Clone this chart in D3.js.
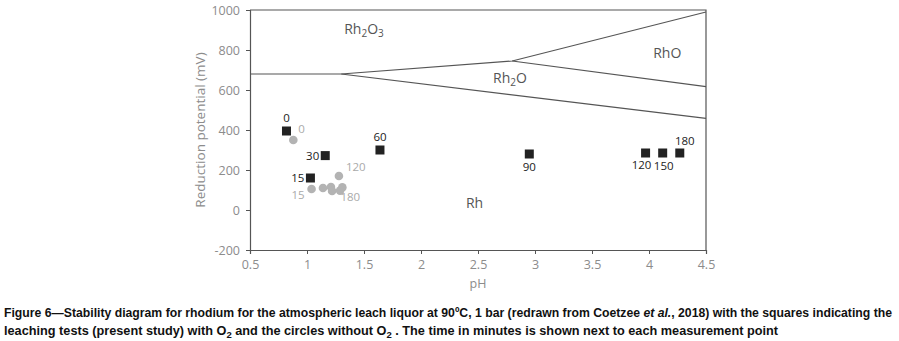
<!DOCTYPE html>
<html lang="en">
<head>
<meta charset="utf-8" />
<title>Rh stability diagram</title>
<script src="https://cdn.jsdelivr.net/npm/d3@7"></script>
<style>
body { margin: 0; background: white; }
svg text { font-family: "Open Sans", sans-serif; }
</style>
</head>
<body>
<script>
// boundary lines of the stability fields, [pH, mV]
var lineTopLeft = [[0.5, 680], [1.3, 680]];
var lineUpper = [[1.3, 680], [2.8, 745], [4.5, 990]];
var lineMiddle = [[2.8, 745], [4.5, 617]];
var lineLower = [[1.3, 680], [4.5, 458]];

// leaching tests with O2 (squares)
var sqTime = [0, 15, 30, 60, 90, 120, 150, 180];
var sqPH = [0.82, 1.03, 1.16, 1.64, 2.95, 3.97, 4.12, 4.27];
var sqE = [395, 160, 272, 300, 280, 285, 285, 285];

// leaching tests without O2 (circles)
var ciTime = [0, 15, 30, 60, 90, 120, 150, 180];
var ciPH = [0.88, 1.04, 1.14, 1.21, 1.22, 1.28, 1.29, 1.31];
var ciE = [350, 105, 110, 115, 95, 170, 97, 113];
var ciShown = [0, 15, 120, 180];

var xTicks = [0.5, 1, 1.5, 2, 2.5, 3, 3.5, 4, 4.5];
var yTicks = [-200, 0, 200, 400, 600, 800, 1000];

var w = 899, h = 341;
var pad = { left: 250, right: 193, top: 10, bottom: 91 };

var svg = d3.select("body").append("svg")
  .attr("width", w).attr("height", h);

var x = d3.scaleLinear().domain([0.5, 4.5]).range([pad.left, w - pad.right]);
var y = d3.scaleLinear().domain([-200, 1000]).range([h - pad.bottom, pad.top]);

var axisGrey = "#8c8c8c";

// frame on top / right
svg.append("path")
  .attr("d", "M" + x(0.5) + "," + y(1000) + "H" + x(4.5) + "V" + y(-200))
  .attr("fill", "none").attr("stroke", "#555").attr("stroke-width", 1.2);

var xAxis = svg.append("g")
  .attr("transform", "translate(0," + y(-200) + ")")
  .call(d3.axisBottom(x).tickValues(xTicks).tickSize(4).tickPadding(6)
    .tickFormat(function(d) { return String(d); }));
var yAxis = svg.append("g")
  .attr("transform", "translate(" + x(0.5) + ",0)")
  .call(d3.axisLeft(y).tickValues(yTicks).tickSize(4).tickPadding(6)
    .tickFormat(function(d) { return String(d); }));
[xAxis, yAxis].forEach(function(a) {
  a.select(".domain").attr("stroke", "#555").attr("stroke-width", 1.2);
  a.selectAll(".tick line").attr("stroke", "#555");
  a.selectAll(".tick text").attr("fill", axisGrey)
    .style("font-size", "12.5px").style("font-family", "'Open Sans', sans-serif");
});

svg.append("text")
  .attr("x", (x(0.5) + x(4.5)) / 2).attr("y", 288)
  .attr("text-anchor", "middle").attr("fill", axisGrey)
  .style("font-size", "12.5px").text("pH");
svg.append("text")
  .attr("transform", "translate(205," + y(400) + ") rotate(-90)")
  .attr("text-anchor", "middle").attr("fill", axisGrey)
  .style("font-size", "13.5px").text("Reduction potential (mV)");

// boundary lines
var line = d3.line().x(function(d) { return x(d[0]); }).y(function(d) { return y(d[1]); });
[lineTopLeft, lineUpper, lineMiddle, lineLower].forEach(function(l) {
  svg.append("path").attr("d", line(l))
    .attr("fill", "none").attr("stroke", "#555").attr("stroke-width", 1.2);
});

// field labels
var fields = [
  { name: "Rh", sub: "2", tail: "O", sub2: "3", ph: 1.5, e: 880 },
  { name: "RhO", ph: 4.16, e: 760 },
  { name: "Rh", sub: "2", tail: "O", ph: 2.78, e: 635 },
  { name: "Rh", ph: 2.47, e: 12 }
];
fields.forEach(function(f) {
  var t = svg.append("text").attr("x", x(f.ph)).attr("y", y(f.e))
    .attr("text-anchor", "middle")
    .attr("fill", "#555").style("font-size", "14px");
  t.append("tspan").text(f.name);
  if (f.sub) {
    t.append("tspan").attr("dy", 3).style("font-size", "10px").text(f.sub);
    t.append("tspan").attr("dy", -3).text(f.tail);
  }
  if (f.sub2) {
    t.append("tspan").attr("dy", 3).style("font-size", "10px").text(f.sub2);
  }
});

// circles (without O2)
var ciData = ciTime.map(function(t, i) { return { t: t, ph: ciPH[i], e: ciE[i] }; });
svg.append("g").selectAll("circle").data(ciData).enter().append("circle")
  .attr("cx", function(d) { return x(d.ph); })
  .attr("cy", function(d) { return y(d.e); })
  .attr("r", 4.3).attr("fill", "#b3b3b3");

// squares (with O2)
var sqData = sqTime.map(function(t, i) { return { t: t, ph: sqPH[i], e: sqE[i] }; });
var s = 9;
svg.append("g").selectAll("rect").data(sqData).enter().append("rect")
  .attr("x", function(d) { return x(d.ph) - s / 2; })
  .attr("y", function(d) { return y(d.e) - s / 2; })
  .attr("width", s).attr("height", s).attr("fill", "#222");

// label offsets in px, [dx, dy, anchor]
var sqLabelPos = {
  0: [0, -9, "middle"], 15: [-6, 4, "end"], 30: [-6, 4, "end"], 60: [0, -9, "middle"],
  90: [0, 17, "middle"], 120: [-4, 16, "middle"], 150: [1, 17, "middle"], 180: [5, -8, "middle"]
};
var ciLabelPos = {
  0: [5, -7, "start"], 15: [-7, 10, "end"], 120: [7, -5, "start"], 180: [8, 14, "middle"]
};
svg.append("g").selectAll("text").data(sqData).enter().append("text")
  .attr("x", function(d) { return x(d.ph) + sqLabelPos[d.t][0]; })
  .attr("y", function(d) { return y(d.e) + sqLabelPos[d.t][1]; })
  .attr("text-anchor", function(d) { return sqLabelPos[d.t][2]; })
  .attr("fill", "#222").style("font-size", "11.5px")
  .text(function(d) { return d.t; });
svg.append("g").selectAll("text")
  .data(ciData.filter(function(d) { return ciShown.indexOf(d.t) >= 0; }))
  .enter().append("text")
  .attr("x", function(d) { return x(d.ph) + ciLabelPos[d.t][0]; })
  .attr("y", function(d) { return y(d.e) + ciLabelPos[d.t][1]; })
  .attr("text-anchor", function(d) { return ciLabelPos[d.t][2]; })
  .attr("fill", "#aaa").style("font-size", "11.5px")
  .text(function(d) { return d.t; });

// caption
var capFont = "'Liberation Sans Narrow', 'Arial Narrow', 'Liberation Sans', sans-serif";
var cap = svg.append("g").attr("fill", "#111")
  .style("font-size", "12px").style("font-weight", "bold");
var c1 = cap.append("text").attr("x", 4).attr("y", 317)
  .attr("textLength", 888).attr("lengthAdjust", "spacingAndGlyphs")
  .style("font-family", capFont);
c1.append("tspan").text("Figure 6\u2014Stability diagram for rhodium for the atmospheric leach liquor at 90\u00baC, 1 bar (redrawn from Coetzee ");
c1.append("tspan").style("font-style", "italic").text("et al.");
c1.append("tspan").text(", 2018) with the squares indicating the");
var c2 = cap.append("text").attr("x", 4).attr("y", 335)
  .attr("textLength", 774).attr("lengthAdjust", "spacingAndGlyphs")
  .style("font-family", capFont);
c2.append("tspan").text("leaching tests (present study) with O");
c2.append("tspan").attr("dy", 3).style("font-size", "9px").text("2");
c2.append("tspan").attr("dy", -3).text(" and the circles without O");
c2.append("tspan").attr("dy", 3).style("font-size", "9px").text("2");
c2.append("tspan").attr("dy", -3).text(" . The time in minutes is shown next to each measurement point");
</script>
</body>
</html>
